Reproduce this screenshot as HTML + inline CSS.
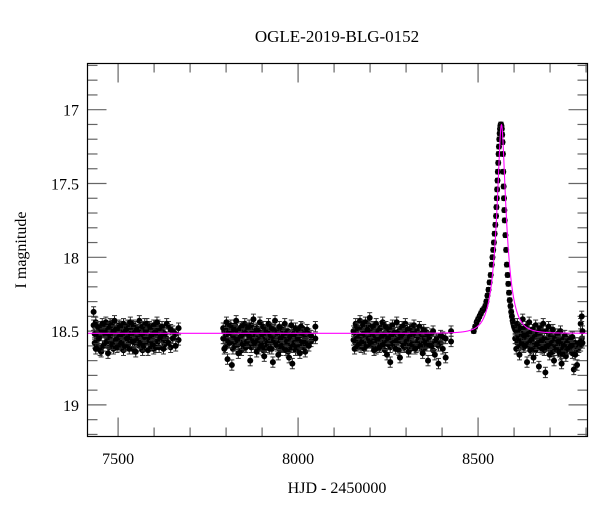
<!DOCTYPE html>
<html><head><meta charset="utf-8"><style>
body{margin:0;background:#fff;}
svg{display:block;}
text{font-family:"Liberation Serif",serif;fill:#000;}
</style></head>
<body>
<svg id="chart" width="600" height="512" viewBox="0 0 600 512">
<text x="337" y="42" text-anchor="middle" font-size="17">OGLE-2019-BLG-0152</text>
<text x="337" y="493" text-anchor="middle" font-size="16">HJD - 2450000</text>
<text x="26" y="250" text-anchor="middle" font-size="16" transform="rotate(-90 26 250)">I magnitude</text>
<g id="ticks"></g>
<g id="pts"></g>
<g id="model"></g>
<rect x="87.5" y="63.5" width="500" height="373" fill="none" stroke="#000" stroke-width="1.2"/>
</svg>
<script>
const xTicks=[7500,8000,8500];
const yTicks=[17,17.5,18,18.5,19];
const modelParams={t0:8565,tE:30,u0:0.28,base:18.515};
const errBase=0.035, errEvent=0.015;
const s1T=[7432,7435,7438,7441,7444,7447,7450,7453,7456,7459,7463,7466,7469,7472,7475,7478,7481,7484,7487,7490,7494,7497,7500,7503,7506,7509,7512,7515,7518,7521,7525,7528,7531,7534,7537,7540,7543,7546,7549,7552,7556,7559,7562,7565,7568,7571,7574,7577,7580,7583,7587,7590,7593,7596,7599,7602,7605,7608,7611,7614,7618,7622,7626,7630,7635,7640,7646,7652,7660,7668];
const s1M=[18.37,18.58,18.62,18.52,18.47,18.55,18.63,18.49,18.45,18.60,18.51,18.44,18.57,18.65,18.48,18.53,18.46,18.59,18.50,18.43,18.56,18.61,18.49,18.54,18.47,18.58,18.52,18.45,18.60,18.50,18.55,18.48,18.62,18.44,18.53,18.57,18.46,18.51,18.64,18.49,18.55,18.43,18.58,18.52,18.47,18.60,18.54,18.50,18.45,18.63,18.56,18.48,18.53,18.59,18.46,18.51,18.61,18.44,18.57,18.50,18.54,18.47,18.62,18.52,18.45,18.58,18.49,18.55,18.60,18.48];
const s1M2=[18.46,18.52,18.44,18.60,18.55,18.49,18.53,18.64,18.51,18.47,18.58,18.53,18.49,18.54,18.61,18.45,18.56,18.52,18.62,18.51,18.48,18.53,18.59,18.46,18.60,18.50,18.56,18.63,18.48,18.54,18.46,18.59,18.52,18.57,18.49,18.62,18.53,18.58,18.47,18.55,18.51,18.60,18.48,18.56,18.63,18.50,18.45,18.58,18.53,18.49,18.47,18.60,18.55,18.50,18.62,18.57,18.48,18.53,18.46,18.61,18.49,18.56,18.51,18.59,18.55,18.47,18.61,18.50,18.52,18.56];
const s2T=[7792,7795,7798,7801,7804,7807,7810,7813,7816,7819,7822,7825,7828,7831,7834,7837,7840,7843,7846,7849,7852,7855,7858,7861,7864,7867,7870,7873,7876,7879,7882,7885,7888,7891,7894,7897,7900,7903,7906,7909,7912,7915,7918,7921,7924,7927,7930,7933,7936,7939,7942,7945,7948,7951,7954,7957,7960,7963,7966,7969,7972,7975,7978,7981,7984,7987,7990,7993,7996,7999,8002,8005,8008,8012,8016,8020,8025,8030,8036,8048];
const s2M=[18.48,18.62,18.55,18.44,18.69,18.51,18.58,18.46,18.73,18.53,18.49,18.60,18.43,18.56,18.65,18.50,18.54,18.47,18.59,18.52,18.45,18.61,18.57,18.48,18.53,18.70,18.46,18.55,18.42,18.58,18.51,18.64,18.49,18.56,18.44,18.60,18.52,18.47,18.67,18.54,18.50,18.58,18.45,18.62,18.53,18.48,18.71,18.56,18.43,18.59,18.51,18.66,18.47,18.55,18.60,18.49,18.53,18.45,18.63,18.57,18.50,18.68,18.54,18.46,18.72,18.52,18.58,18.48,18.61,18.55,18.50,18.65,18.47,18.57,18.52,18.64,18.49,18.60,18.53,18.47];
const s2M2=[18.55,18.50,18.61,18.53,18.47,18.58,18.49,18.56,18.52,18.62,18.57,18.46,18.54,18.50,18.59,18.55,18.48,18.63,18.51,18.57,18.60,18.49,18.52,18.58,18.46,18.55,18.61,18.50,18.57,18.53,18.59,18.48,18.55,18.62,18.51,18.54,18.58,18.63,18.50,18.56,18.61,18.47,18.55,18.51,18.58,18.62,18.53,18.49,18.57,18.54,18.60,18.50,18.58,18.63,18.52,18.56,18.61,18.54,18.50,18.59,18.64,18.53,18.57,18.61,18.55,18.60,18.50,18.63,18.54,18.58,18.62,18.53,18.59,18.48,18.61,18.55,18.58,18.52,18.57,18.55];
const s3T=[8154,8157,8160,8163,8166,8169,8172,8175,8178,8181,8184,8187,8190,8193,8196,8199,8202,8205,8208,8211,8214,8217,8220,8223,8226,8229,8232,8235,8238,8241,8244,8247,8250,8253,8256,8259,8262,8265,8268,8271,8274,8277,8280,8283,8286,8289,8292,8295,8298,8301,8304,8307,8310,8313,8316,8319,8322,8325,8328,8331,8334,8337,8340,8343,8346,8349,8352,8355,8358,8361,8365,8370,8375,8380,8385,8390,8396,8402,8410,8425];
const s3M=[18.50,18.62,18.45,18.55,18.48,18.59,18.43,18.53,18.57,18.46,18.52,18.44,18.60,18.49,18.55,18.41,18.58,18.51,18.47,18.63,18.53,18.45,18.56,18.50,18.61,18.48,18.54,18.44,18.59,18.52,18.47,18.66,18.55,18.49,18.71,18.53,18.46,18.58,18.51,18.62,18.44,18.56,18.50,18.68,18.53,18.47,18.60,18.52,18.45,18.57,18.49,18.64,18.54,18.48,18.59,18.51,18.46,18.62,18.53,18.50,18.56,18.47,18.60,18.52,18.65,18.49,18.55,18.58,18.51,18.70,18.54,18.60,18.50,18.66,18.56,18.72,18.53,18.62,18.55,18.50];
const s3M2=[18.56,18.51,18.58,18.47,18.60,18.53,18.55,18.61,18.49,18.57,18.62,18.53,18.50,18.58,18.46,18.56,18.52,18.60,18.55,18.49,18.58,18.62,18.50,18.57,18.53,18.60,18.47,18.58,18.52,18.63,18.56,18.50,18.59,18.54,18.61,18.48,18.57,18.52,18.60,18.55,18.58,18.51,18.63,18.55,18.49,18.57,18.54,18.61,18.58,18.52,18.60,18.55,18.49,18.62,18.56,18.58,18.53,18.50,18.61,18.57,18.52,18.60,18.55,18.58,18.51,18.62,18.57,18.53,18.60,18.55,18.58,18.52,18.63,18.57,18.55,18.60,18.58,18.54,18.68,18.57];
const evT=[8488,8492,8496,8500,8504,8508,8512,8516,8520,8523,8526,8529,8532,8535,8538,8540,8542,8544,8546,8548,8550,8551,8552,8553,8554,8555,8556,8557,8558,8559,8560,8561,8562,8563,8564,8565,8566,8567,8568,8569,8570,8571,8572,8573,8574,8576,8578,8580,8582,8584,8586,8588,8590,8592,8594,8596,8598,8600];
const evM=[18.50,18.47,18.44,18.42,18.40,18.38,18.36,18.35,18.33,18.30,18.26,18.22,18.17,18.12,18.05,18.00,17.95,17.90,17.84,17.78,17.72,17.66,17.60,17.54,17.48,17.42,17.36,17.30,17.25,17.20,17.16,17.13,17.11,17.10,17.10,17.11,17.13,17.17,17.22,17.30,17.42,17.52,17.60,17.68,17.75,17.85,17.95,18.05,18.12,18.18,18.24,18.29,18.33,18.37,18.40,18.43,18.45,18.47];
const s4T=[8603,8606,8609,8612,8615,8618,8621,8624,8627,8630,8633,8636,8639,8642,8645,8648,8651,8654,8657,8660,8663,8666,8669,8672,8675,8678,8681,8684,8687,8690,8693,8696,8699,8702,8705,8708,8711,8714,8717,8720,8723,8726,8729,8732,8735,8738,8741,8744,8747,8750,8754,8758,8762,8766,8770,8775,8780,8785,8788,8790];
const s4M=[18.49,18.62,18.45,18.55,18.66,18.48,18.58,18.42,18.53,18.60,18.47,18.71,18.52,18.44,18.63,18.56,18.49,18.68,18.54,18.46,18.59,18.51,18.74,18.48,18.57,18.62,18.45,18.55,18.78,18.50,18.60,18.47,18.66,18.53,18.58,18.49,18.70,18.55,18.61,18.52,18.57,18.64,18.50,18.72,18.56,18.60,18.53,18.67,18.58,18.62,18.56,18.60,18.54,18.76,18.66,18.73,18.58,18.45,18.40,18.50];
const s4M2=[18.55,18.50,18.58,18.53,18.49,18.60,18.52,18.57,18.61,18.50,18.56,18.53,18.60,18.58,18.51,18.62,18.57,18.54,18.59,18.63,18.52,18.58,18.56,18.61,18.54,18.50,18.59,18.63,18.57,18.60,18.55,18.62,18.58,18.61,18.54,18.64,18.57,18.60,18.56,18.63,18.60,18.55,18.66,18.58,18.61,18.57,18.64,18.60,18.55,18.58,18.62,18.57,18.65,18.60,18.58,18.63,18.61,18.60,18.55,18.58];

const L=87.5,R=587.5,T=63.5,B=436.5;
const xMin=7415,xMax=8804,yMin=16.687,yMax=19.214;
const X=t=>L+(t-xMin)/(xMax-xMin)*(R-L);
const Y=m=>T+(m-yMin)/(yMax-yMin)*(B-T);
const NS='http://www.w3.org/2000/svg';
function mk(tag,at,parent){const e=document.createElementNS(NS,tag);for(const k in at)e.setAttribute(k,at[k]);parent.appendChild(e);return e;}
const svg=document.getElementById('chart');
const tg=document.getElementById('ticks');
for(let v=7500;v<=8800;v+=100){
  const major=v%500===0, len=major?19:9, x=X(v);
  const a=mk('line',{x1:x,x2:x,y1:B,y2:B-len,stroke:'#666','stroke-width':1.2},tg);
  
  
  const b=mk('line',{x1:x,x2:x,y1:T,y2:T+len,stroke:'#666','stroke-width':1.2},tg);
  
  
}
xTicks.forEach(v=>{const t=mk('text',{x:X(v),y:464,'text-anchor':'middle','font-size':16},svg);t.textContent=v;
  
  });
for(let i=0;i<=25;i++){
  const v=16.7+i*0.1; if(v>yMax) break;
  const major=Math.abs(v*2-Math.round(v*2))<1e-6, len=major?19:10, y=Y(v);
  const a=mk('line',{x1:L,x2:L+len,y1:y,y2:y,stroke:'#666','stroke-width':1.2},tg);
  
  
  const b=mk('line',{x1:R,x2:R-len,y1:y,y2:y,stroke:'#666','stroke-width':1.2},tg);
  
  
}
yTicks.forEach(v=>{const t=mk('text',{x:79,y:Y(v)+6,'text-anchor':'end','font-size':16},svg);t.textContent=v;
  
  });
const pg=document.getElementById('pts');
function draw(ts,ms,err){
  ts.forEach((t,i)=>{const x=X(t),y=Y(ms[i]),e=Y(ms[i]+err)-y;
    const g=mk('g',{},pg);
    
    
    mk('line',{x1:x,x2:x,y1:y-e,y2:y+e,stroke:'#222','stroke-width':1},g);
    mk('line',{x1:x-2.5,x2:x+2.5,y1:y-e,y2:y-e,stroke:'#333','stroke-width':1},g);
    mk('line',{x1:x-2.5,x2:x+2.5,y1:y+e,y2:y+e,stroke:'#333','stroke-width':1},g);
    mk('circle',{cx:x,cy:y,r:3,fill:'#000'},g);});
}
draw(s1T,s1M2,errBase);draw(s2T,s2M2,errBase);draw(s3T,s3M2,errBase);draw(s4T,s4M2,errBase);
draw(s1T,s1M,errBase);draw(s2T,s2M,errBase);draw(s3T,s3M,errBase);
draw(evT,evM,errEvent);draw(s4T,s4M,errBase);
const p=modelParams;let d='';
for(let t=xMin;t<=xMax;t+=0.5){const tau=(t-p.t0)/p.tE,u=Math.sqrt(p.u0*p.u0+tau*tau);
  const A=(u*u+2)/(u*Math.sqrt(u*u+4));const m=p.base-2.5*Math.log10(A);
  d+=(d?'L':'M')+X(t).toFixed(2)+','+Math.max(T,Y(m)).toFixed(2);}
const mp=mk('path',{d:d,fill:'none',stroke:'#ff00ff','stroke-width':1.1},document.getElementById('model'));


</script>
</body></html>
